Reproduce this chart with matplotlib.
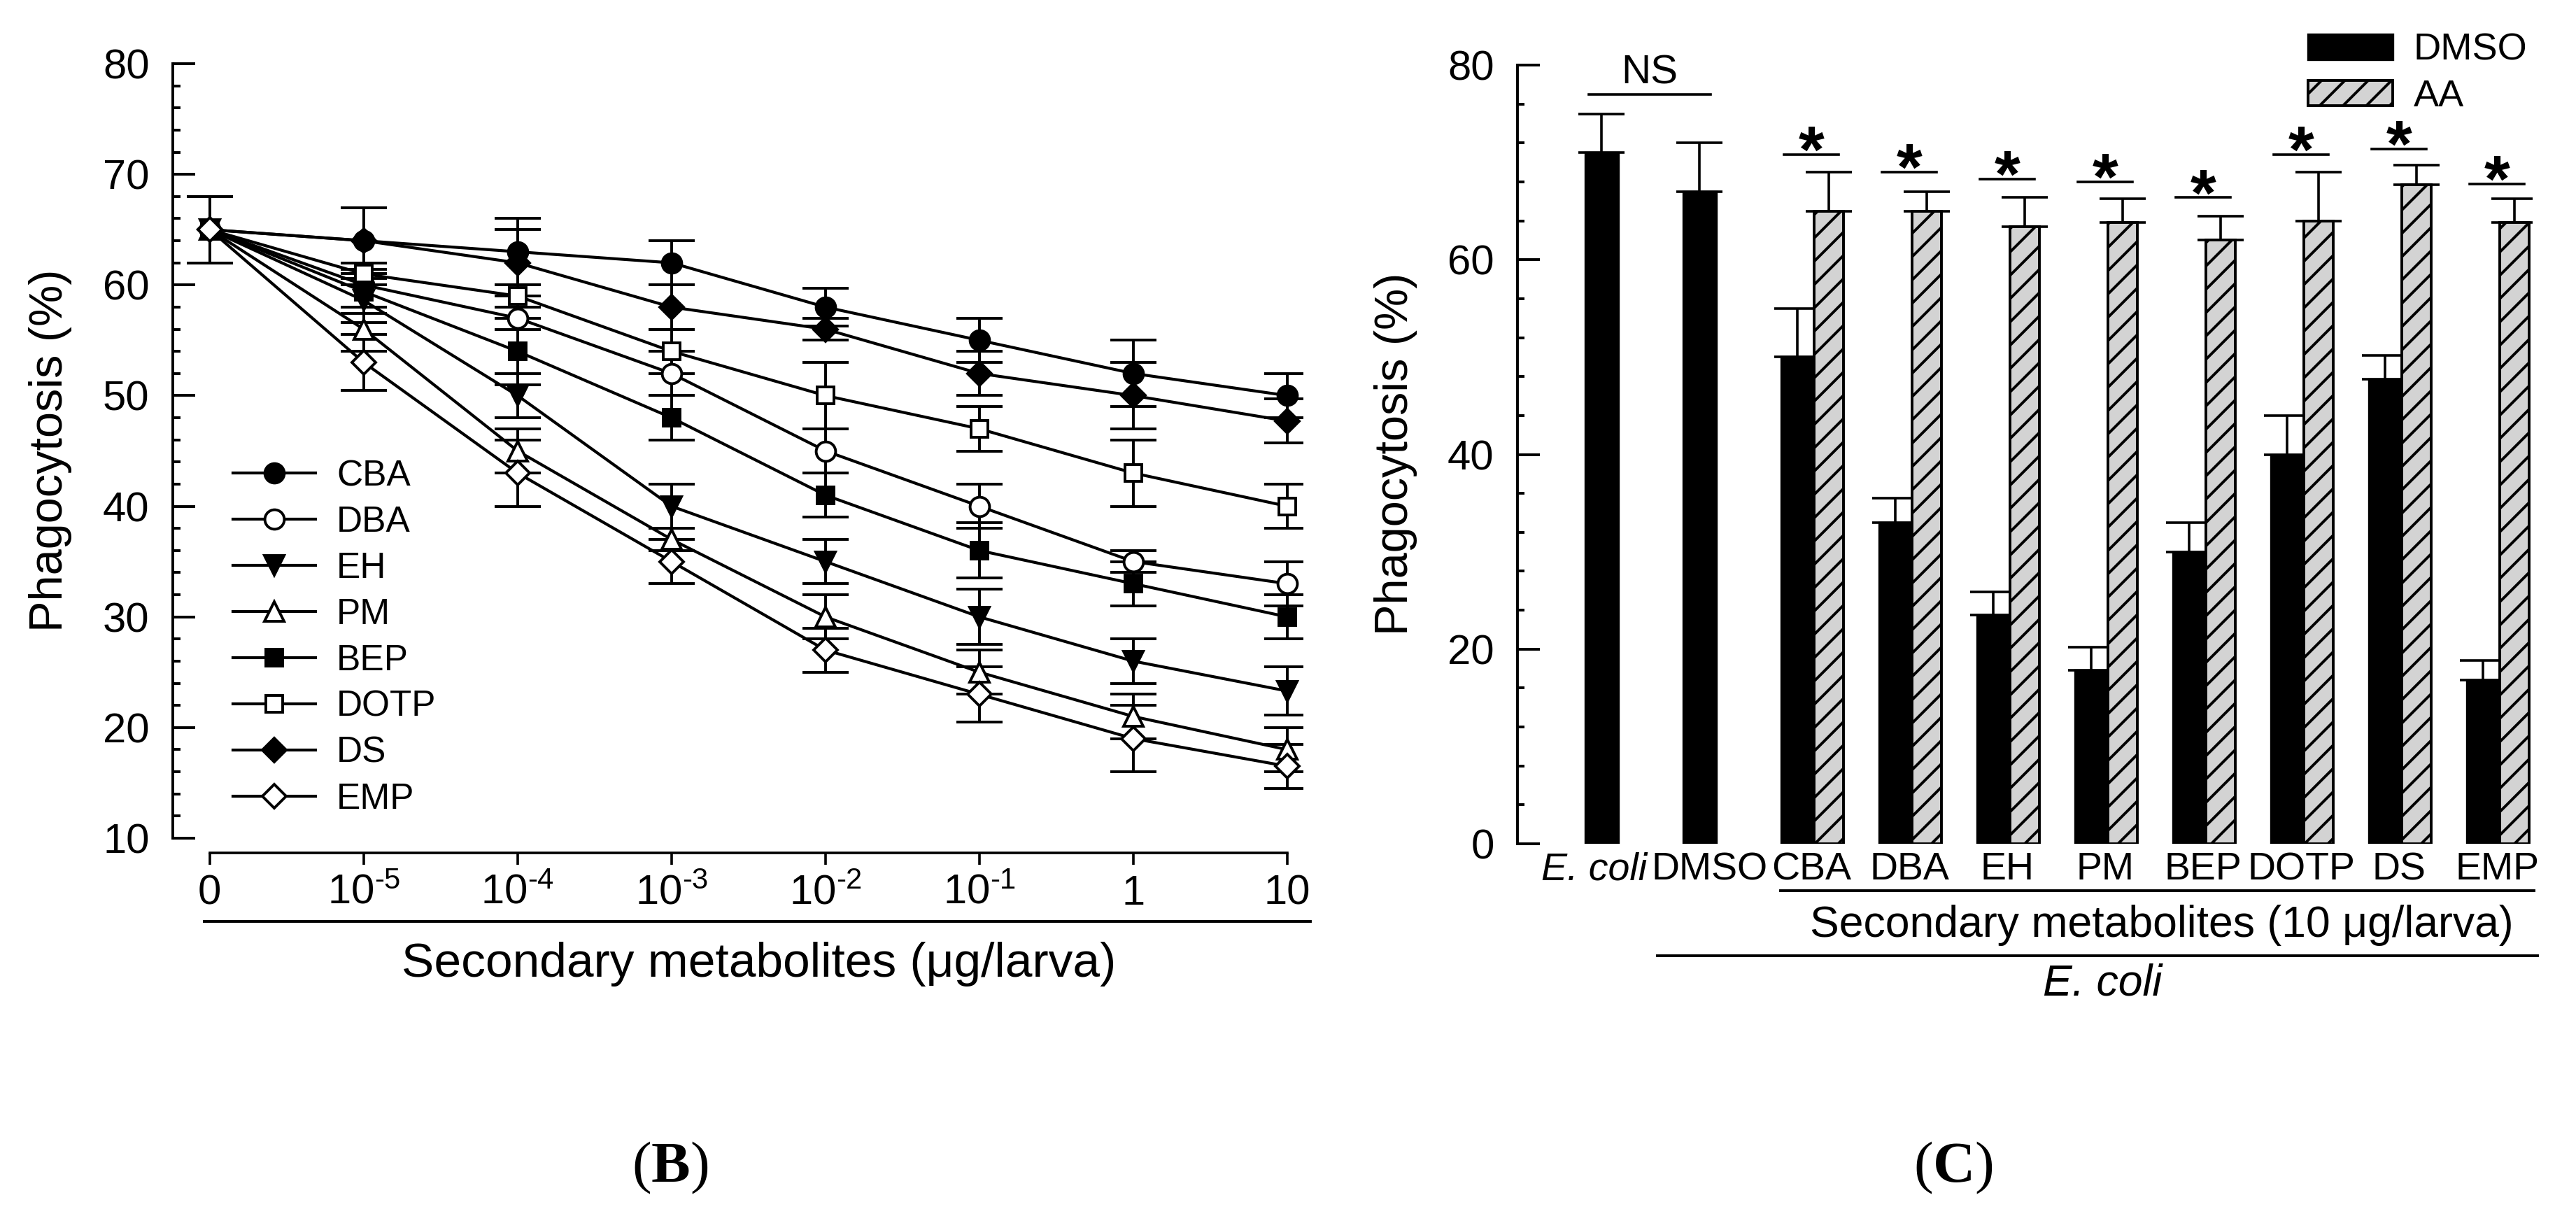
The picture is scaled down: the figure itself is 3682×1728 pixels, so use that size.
import matplotlib
matplotlib.use("Agg")
import matplotlib.pyplot as plt
import numpy as np
from matplotlib.lines import Line2D
from matplotlib.ticker import MultipleLocator

W, H, DPI = 3682, 1728, 200

plt.rcParams["font.family"] = ["Liberation Sans", "DejaVu Sans"]
plt.rcParams["mathtext.fontset"] = "custom"
plt.rcParams["mathtext.rm"] = "Liberation Sans"
plt.rcParams["mathtext.it"] = "Liberation Sans:italic"
plt.rcParams["mathtext.bf"] = "Liberation Serif:bold"
plt.rcParams["hatch.linewidth"] = 1.4

# ---- panel B: dose response ----
dose_labels = ["0", r"$\mathregular{10^{\text{-}5}}$", r"$\mathregular{10^{\text{-}4}}$",
               r"$\mathregular{10^{\text{-}3}}$", r"$\mathregular{10^{\text{-}2}}$",
               r"$\mathregular{10^{\text{-}1}}$", "1", "10"]
cba = [65, 64, 63, 62, 58, 55, 52, 50]
dba = [65, 60, 57, 52, 45, 40, 35, 33]
eh = [65, 58.6, 50, 40, 35, 30, 26, 23.3]
pm = [65, 56, 45, 37, 30, 25, 21, 18]
bep = [65, 59.4, 54, 48, 41, 36, 33, 30]
dotp = [65, 61, 59, 54, 50, 47, 43, 40]
ds = [65, 64, 62, 58, 56, 52, 50, 47.7]
emp = [65, 53, 43, 35, 27, 23, 19, 16.5]

cba_err = [3, 3, 3, 2, 1.7, 2, 3, 2]
dba_err = [3, 2, 1, 2, 2, 2, 1, 2]
eh_err = [3, 2, 2, 2, 2, 2.5, 2, 2.2]
pm_err = [3, 2, 2, 1, 2, 2, 2, 2]
bep_err = [3, 2, 3, 2, 2, 2.5, 2, 2]
dotp_err = [3, 1, 1, 2, 3, 2, 3, 2]
ds_err = [3, 3, 3, 2, 1, 2, 3, 2]
emp_err = [3, 2.5, 3, 2, 2, 2.5, 3, 2]

series = [("CBA", cba, cba_err, "o", "k", 10),
          ("DBA", dba, dba_err, "o", "w", 10),
          ("EH", eh, eh_err, "v", "k", 10),
          ("PM", pm, pm_err, "^", "w", 10),
          ("BEP", bep, bep_err, "s", "k", 8.5),
          ("DOTP", dotp, dotp_err, "s", "w", 8.5),
          ("DS", ds, ds_err, "D", "k", 8.5),
          ("EMP", emp, emp_err, "D", "w", 8.5)]

# ---- panel C: bars ----
groups = ["E. coli", "DMSO", "CBA", "DBA", "EH", "PM", "BEP", "DOTP", "DS", "EMP"]
dmso = [71, 67, 50, 33, 23.5, 17.8, 30, 40, 47.7, 16.8]
dmso_err = [4, 5, 5, 2.5, 2.4, 2.4, 3, 4, 2.5, 2]
aa = [65, 65, 63.4, 63.8, 62, 64, 67.7, 63.8]
aa_err = [4, 2, 3, 2.5, 2.5, 5, 2, 2.5]
star_y = [70.8, 69, 68.3, 68, 66.4, 70.8, 71.4, 67.8]
ns_y = 77

fig = plt.figure(figsize=(W / DPI, H / DPI), dpi=DPI)


def px(x, y):
    return x / W, 1 - y / H


# ================= B =================
axL = fig.add_axes([247 / W, 1 - 1198 / H, (1862 - 247) / W, (1198 - 91) / H])
x = np.arange(len(dose_labels))
handles = []
for name, y, e, mk, fc, ms in series:
    axL.errorbar(x, y, yerr=e, fmt="none", ecolor="k", elinewidth=1.4, capsize=12, capthick=1.4, zorder=2)
    h, = axL.plot(x, y, "-", color="k", lw=1.5, marker=mk, ms=ms, mfc=fc, mec="k", mew=1.4,
                  label=name, zorder=3)
    handles.append(h)

axL.set_xlim(-0.24, 7.1)
axL.set_ylim(10, 80)
for s in ["top", "right"]:
    axL.spines[s].set_visible(False)
axL.spines["left"].set_bounds(10, 80)
axL.spines["left"].set_linewidth(1.4)
axL.spines["bottom"].set_position(("outward", 21 * 72 / DPI))
axL.spines["bottom"].set_bounds(0, 7)
axL.spines["bottom"].set_linewidth(1.3)
axL.yaxis.set_major_locator(MultipleLocator(10))
axL.yaxis.set_minor_locator(MultipleLocator(2))
axL.tick_params(axis="y", which="major", direction="in", length=11.5, width=1.4, labelsize=21.5, pad=12)
axL.tick_params(axis="y", which="minor", direction="in", length=4, width=1.4)
axL.set_xticks(x)
axL.set_xticklabels(dose_labels)
axL.tick_params(axis="x", direction="out", length=6, width=1.3, labelsize=21.5, pad=5)

axL.legend(handles=handles, loc="center left", frameon=False, fontsize=18.5,
           bbox_to_anchor=px(333, (684 + 1139) / 2), bbox_transform=fig.transFigure,
           borderpad=0, borderaxespad=0, handlelength=2.3, handletextpad=0.58, labelspacing=0.33)

fig.add_artist(Line2D([292 / W, 1873 / W], [1 - 1317 / H] * 2, color="k", lw=1.4))
fig.text(*px(1085, 1378), "Secondary metabolites (\u03bcg/larva)", ha="center", va="center", fontsize=25)
fig.text(*px(72, 644), "Phagocytosis (%)", rotation=90, ha="center", va="center", fontsize=24)
fig.text(*px(958, 1669), r"($\mathbf{B}$)", family="Liberation Serif", ha="center", va="center", fontsize=30)

# ================= C =================
wd, wa = 0.33, 0.30
unit = 140.0
xl = (-0.86, 9.5)
axR = fig.add_axes([2169 / W, 1 - 1206 / H, (xl[1] - xl[0]) * unit / W, (1206 - 93) / H])
pos_d = np.arange(len(groups), dtype=float)
pos_a = np.arange(2, len(groups)) + (wd + wa) / 2

axR.errorbar(pos_d, dmso, yerr=[np.zeros(len(dmso)), dmso_err], fmt="none", ecolor="k",
             elinewidth=1.3, capsize=12, capthick=1.3, zorder=1)
axR.errorbar(pos_a, aa, yerr=[np.zeros(len(aa)), aa_err], fmt="none", ecolor="k",
             elinewidth=1.3, capsize=12, capthick=1.3, zorder=1)
bd = axR.bar(pos_d, dmso, width=wd, color="k", edgecolor="k", lw=1.2, label="DMSO", zorder=2)
ba = axR.bar(pos_a, aa, width=wa, color="#d3d3d3", edgecolor="k", lw=1.4, hatch="//", label="AA", zorder=2)

for i, ys in zip(range(2, len(groups)), star_y):
    axR.plot([i - 0.14, i + 0.42], [ys, ys], color="k", lw=1.3)
    axR.text(i + 0.14, ys - 1.8, "*", ha="center", va="baseline", fontsize=34, fontweight="bold")
axR.plot([-0.13, 1.11], [ns_y, ns_y], color="k", lw=1.3)
axR.text(0.49, ns_y + 1.1, "NS", ha="center", va="baseline", fontsize=21)

axR.set_xlim(*xl)
axR.set_ylim(0, 80)
for s in ["top", "right", "bottom"]:
    axR.spines[s].set_visible(False)
axR.spines["left"].set_bounds(0, 80)
axR.spines["left"].set_linewidth(1.4)
axR.yaxis.set_major_locator(MultipleLocator(20))
axR.yaxis.set_minor_locator(MultipleLocator(4))
axR.tick_params(axis="y", which="major", direction="in", length=11.5, width=1.4, labelsize=21.5, pad=12)
axR.tick_params(axis="y", which="minor", direction="in", length=3.6, width=1.4)
lab_pos = [-0.08, 1.1] + [i + 0.14 for i in range(2, len(groups))]
axR.set_xticks(lab_pos)
axR.set_xticklabels(groups, fontsize=20)
axR.get_xticklabels()[0].set_style("italic")
axR.tick_params(axis="x", length=0, pad=4)

axR.legend(handles=[bd, ba], loc="upper left", frameon=False, fontsize=19.5,
           bbox_to_anchor=px(3299, 47), bbox_transform=fig.transFigure,
           borderpad=0, borderaxespad=0, handlelength=2.23, handleheight=0.65,
           handletextpad=0.55, labelspacing=0.3)

fig.add_artist(Line2D([2545 / W, 3622 / W], [1 - 1273 / H] * 2, color="k", lw=1.4))
fig.text(*px(3090, 1322), "Secondary metabolites (10 \u03bcg/larva)", ha="center", va="center", fontsize=22.5)
fig.add_artist(Line2D([2369 / W, 3627 / W], [1 - 1366 / H] * 2, color="k", lw=1.4))
fig.text(*px(3005, 1406), "E. coli", style="italic", ha="center", va="center", fontsize=22.5)
fig.text(*px(1995, 649), "Phagocytosis (%)", rotation=90, ha="center", va="center", fontsize=24)
fig.text(*px(2792, 1669), r"($\mathbf{C}$)", family="Liberation Serif", ha="center", va="center", fontsize=30)

fig.savefig("out.png", dpi=DPI)
